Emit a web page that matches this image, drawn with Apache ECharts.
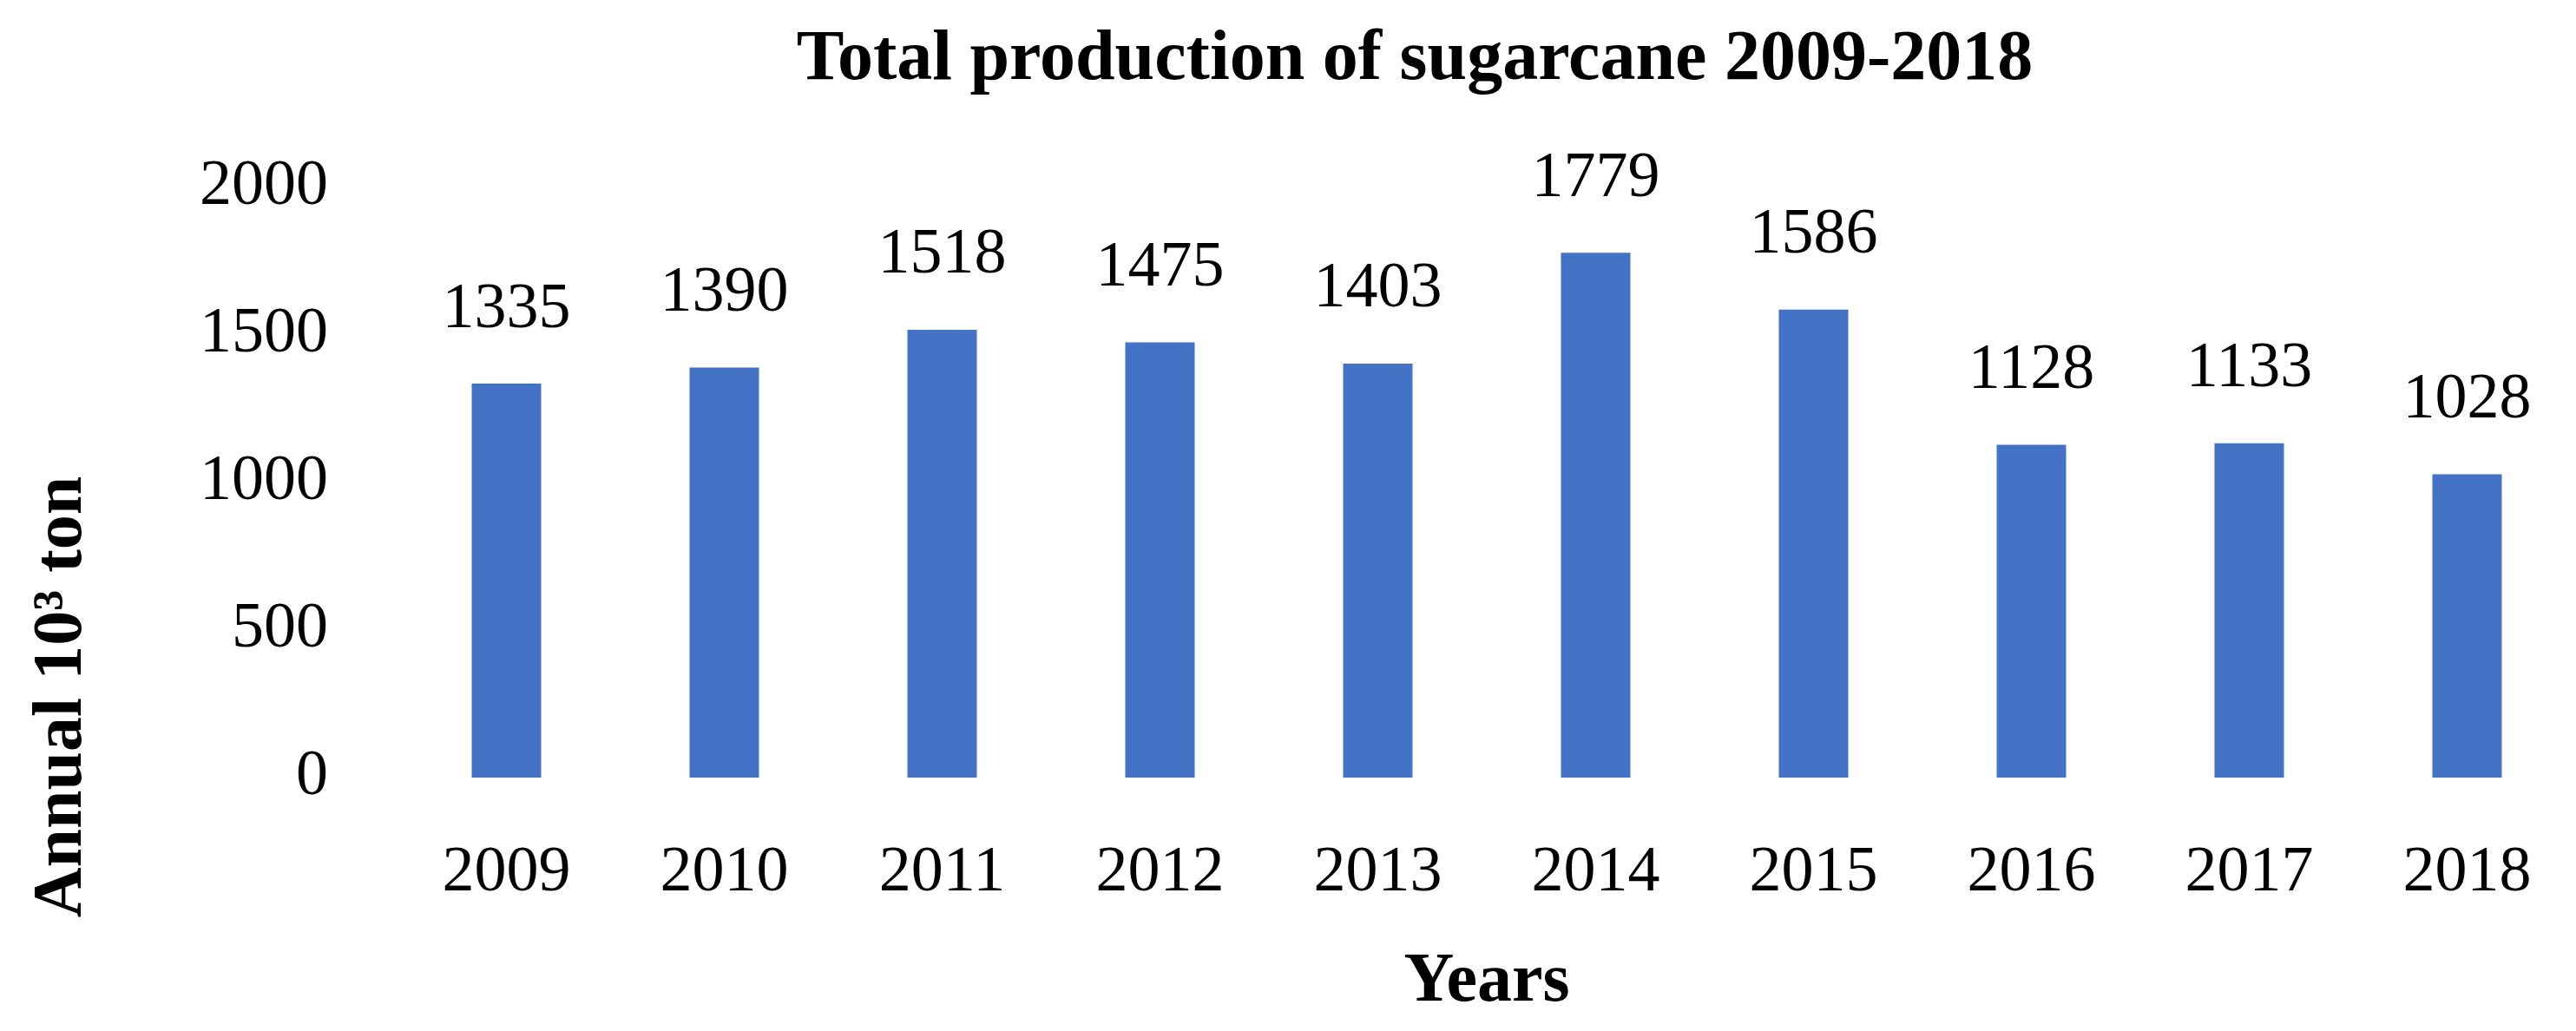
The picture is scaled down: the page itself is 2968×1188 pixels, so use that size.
<!DOCTYPE html>
<html>
<head>
<meta charset="utf-8">
<script src="https://cdn.jsdelivr.net/npm/echarts@6/dist/echarts.min.js"></script>
<style>
html,body{margin:0;padding:0;background:#fff;}
#chart{width:2968px;height:1188px;}
</style>
</head>
<body>
<div id="chart"></div>
<script>
const categories = ['2009','2010','2011','2012','2013','2014','2015','2016','2017','2018'];
const production = [1335, 1390, 1518, 1475, 1403, 1779, 1586, 1128, 1133, 1028];
const yTicks = [0, 500, 1000, 1500, 2000];

const titleText = 'Total production of sugarcane 2009-2018';
const xName = 'Years';
const yName = 'Annual 10\u00B3 ton';

const serif = '"Liberation Serif", "Times New Roman", serif';

const chart = echarts.init(document.getElementById('chart'), null, {renderer: 'canvas'});
chart.setOption({
  backgroundColor: '#ffffff',
  animation: false,
  title: {
    text: titleText,
    left: 1630,
    top: 29,
    padding: 0,
    textAlign: 'center',
    textStyle: {fontFamily: serif, fontWeight: 'bold', fontSize: 82, color: '#000'}
  },
  grid: {left: 458, top: 216, width: 2531, height: 680, containLabel: false},
  xAxis: {
    type: 'category',
    data: categories,
    name: xName,
    nameLocation: 'middle',
    nameGap: 196,
    nameTextStyle: {fontFamily: serif, fontWeight: 'bold', fontSize: 80, color: '#000'},
    axisLine: {show: false},
    axisTick: {show: false},
    axisLabel: {margin: 74, fontFamily: serif, fontSize: 74, color: '#000'},
    splitLine: {show: false}
  },
  yAxis: {
    type: 'value',
    min: yTicks[0],
    max: yTicks[yTicks.length - 1],
    interval: yTicks[1] - yTicks[0],
    axisLine: {show: false},
    axisTick: {show: false},
    splitLine: {show: false},
    axisLabel: {
      margin: 80, fontFamily: serif, fontSize: 74, color: '#000',
      formatter: function (v) { return String(v); }
    }
  },
  graphic: [{
    type: 'text',
    x: 72,
    y: 803,
    rotation: Math.PI / 2,
    style: {
      text: yName,
      fontFamily: serif,
      fontWeight: 'bold',
      fontSize: 80,
      fill: '#000',
      align: 'center',
      verticalAlign: 'middle'
    }
  }],
  series: [{
    type: 'bar',
    data: production,
    barWidth: 80,
    itemStyle: {color: '#4472C4'},
    label: {
      show: true,
      position: 'top',
      distance: 48,
      fontFamily: serif,
      fontSize: 74,
      color: '#000'
    }
  }]
});
</script>
</body>
</html>
